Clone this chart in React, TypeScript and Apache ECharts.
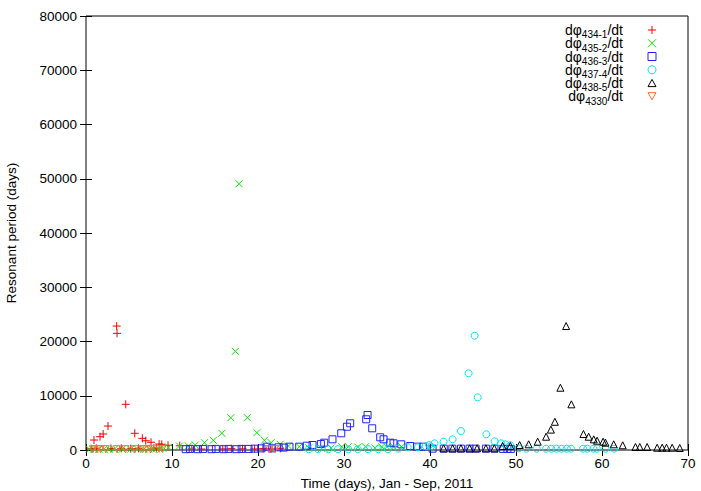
import React, { useEffect, useRef } from 'react';
import * as echarts from 'echarts';

const FONT = "'Liberation Sans', Arial, Helvetica, sans-serif";

const xRange = [0, 70];
const yRange = [0, 80000];
const xStep = 10;
const yStep = 10000;

const seriesNames = ['434-1', '435-2', '436-3', '437-4', '438-5', '4330'];
const seriesColors = ['#ff0000', '#00ee00', '#2222ff', '#00e5ee', '#000000', '#ff6a3d'];

const phi434_1 = [
  [0.93, 1840], [1.63, 2450], [2.0, 2950], [2.56, 4420], [3.57, 22850], [3.61, 21500],
  [4.62, 8420], [5.67, 3080], [6.55, 2150], [6.95, 1710], [7.56, 1420], [8.5, 1100],
  [8.81, 1050], [9.54, 870], [10.9, 780],
  [0.6, 250], [1.2, 300], [2.9, 280], [4.1, 300], [5.2, 260], [6.1, 300], [7.9, 350],
  [8.2, 300], [12.3, 200], [13.4, 180], [15.9, 200], [16.9, 250], [18.2, 220],
  [19.6, 200], [20.6, 280], [21.5, 230], [22.6, 300],
];

const phi435_2 = [
  [17.8, 49080], [17.37, 18190], [16.84, 5950], [18.77, 5950], [15.8, 3080], [19.87, 3190],
  [14.8, 1790], [20.75, 1790], [13.77, 1350], [21.53, 1350], [12.7, 920], [22.58, 1050],
  [11.9, 740], [10.86, 740], [23.54, 740], [9.6, 500], [8.9, 350],
  [0.4, 150], [1.0, 150], [1.5, 150], [2.1, 150], [2.7, 150], [3.3, 150], [4.2, 150],
  [5.2, 150], [6.0, 150], [6.7, 150], [7.3, 150], [7.9, 150], [8.5, 200],
  [24.8, 610], [25.9, 400], [27.4, 300], [28.5, 350], [29.75, 610], [30.5, 600],
  [31.6, 550], [32.5, 600], [33.6, 400], [34.4, 600], [35.0, 610], [35.8, 600], [36.7, 610],
];

const phi436_3 = [
  [23.66, 610], [24.79, 610], [25.68, 790], [26.34, 920], [27.31, 1100], [27.7, 1350],
  [28.66, 1970], [29.68, 3080], [30.34, 4290], [30.72, 4920], [32.58, 5660], [32.74, 6450],
  [33.28, 4000], [34.21, 2340], [34.6, 1970], [35.38, 1350], [35.76, 1230], [36.66, 1050],
  [37.7, 740], [38.48, 610], [39.18, 610],
  [11.6, 150], [12.1, 200], [13.0, 150], [13.6, 200], [14.6, 150], [15.1, 200], [16.0, 150],
  [16.6, 200], [17.5, 150], [18.1, 200], [18.9, 200], [19.6, 250], [20.4, 300], [21.0, 610],
  [21.6, 300], [22.4, 500], [23.0, 450],
  [40.3, 250], [41.6, 250], [42.6, 250], [43.6, 250], [44.6, 250], [45.3, 250], [46.5, 250],
  [47.5, 250], [48.5, 200], [49.0, 200], [49.4, 200],
];

const phi437_4 = [
  [40.53, 1230], [41.58, 1530], [42.63, 1970], [43.6, 3500], [44.49, 14140], [45.19, 21070],
  [45.54, 9710], [46.55, 2890], [47.52, 1600], [48.26, 1230], [48.76, 1050], [49.34, 870],
  [39.9, 900], [40.1, 650], [39.5, 700], [38.6, 500], [37.4, 500], [36.3, 250],
  [25.9, 150], [27.0, 150], [28.2, 150], [29.3, 150], [30.5, 150], [31.6, 150], [32.8, 150],
  [34.0, 150], [35.1, 150],
  [50.3, 300], [51.2, 250], [52.4, 250], [53.5, 240], [54.1, 240], [54.7, 240], [55.3, 240],
  [55.9, 240], [56.4, 240], [57.8, 240], [58.3, 240], [59.0, 240], [59.4, 240], [60.4, 240],
  [61.4, 240],
];

const phi438_5 = [
  [41.58, 310], [42.63, 310], [43.6, 310], [44.6, 310], [45.47, 310], [46.5, 310], [47.48, 310],
  [48.45, 740], [49.34, 740], [50.42, 920], [51.47, 1050], [52.52, 1530], [53.5, 2450],
  [54.06, 3760], [54.52, 5200], [55.16, 11480], [55.83, 22850], [56.44, 8420], [57.84, 2950],
  [58.45, 2450], [59.04, 1970], [59.43, 1710], [60.13, 1530], [60.4, 1350], [61.36, 1050],
  [62.41, 870], [63.89, 550], [64.39, 550], [65.25, 550], [66.41, 420], [67.0, 420],
  [67.5, 420], [68.16, 420], [69.04, 370],
];

const phi4330 = [
  [0.8, 150], [1.3, 150], [1.7, 150], [2.3, 150], [3.6, 150], [4.6, 150], [5.7, 150],
  [6.6, 150], [7.0, 150], [7.5, 150], [8.5, 200], [8.9, 200], [21.3, 150], [22.0, 150],
];

const seriesData = [phi434_1, phi435_2, phi436_3, phi437_4, phi438_5, phi4330];

const PLUS = 'path://M0,5L10,5M5,0L5,10';
const CROSS = 'path://M0,0L10,10M10,0L0,10';
const UP_TRI = 'path://M5,0L10,9L0,9Z';
const DOWN_TRI = 'path://M0,0L10,0L5,9Z';
const symbols = [PLUS, CROSS, 'rect', 'circle', UP_TRI, DOWN_TRI];
const symbolSizes = [8, 7, 7, 7, 7, 7];

export default function App() {
  const ref = useRef<HTMLDivElement>(null);

  useEffect(() => {
    if (!ref.current) return;
    const chart = echarts.init(ref.current, undefined, { renderer: 'svg' });

    const tickCommon = { inside: true, length: 6, lineStyle: { color: '#000', width: 1 } };
    const labelStyle = { color: '#000', fontSize: 13.5, fontFamily: FONT };

    const series = seriesNames.map((name, i) => {
      const hollow = i >= 2;
      return {
        name,
        type: 'scatter',
        xAxisIndex: 0,
        yAxisIndex: 0,
        data: seriesData[i],
        symbol: symbols[i],
        symbolSize: symbolSizes[i],
        itemStyle: {
          color: hollow ? 'rgba(0,0,0,0)' : seriesColors[i],
          borderColor: seriesColors[i],
          borderWidth: 1,
          opacity: 1,
        },
        emphasis: { disabled: true },
      };
    });

    const option = {
      animation: false,
      backgroundColor: '#ffffff',
      textStyle: { fontFamily: FONT },
      grid: {
        left: 86,
        right: 13,
        top: 16,
        bottom: 41,
        containLabel: false,
        outerBoundsMode: 'none',
        show: true,
        borderColor: '#000',
        borderWidth: 1,
        backgroundColor: 'rgba(0,0,0,0)',
      },
      legend: {
        orient: 'vertical',
        right: 44.5,
        top: 23,
        align: 'right',
        padding: 0,
        itemGap: -3.6,
        itemWidth: 8,
        itemHeight: 8,
        selectedMode: false,
        itemStyle: { borderWidth: 1 },
        data: seriesNames,
        formatter: (name: string) => `{a|dφ}{s|${name}}{e|/dt}`,
        textStyle: {
          color: '#000',
          fontFamily: FONT,
          rich: {
            a: { fontSize: 14, lineHeight: 13.7, fontFamily: FONT, color: '#000' },
            s: {
              fontSize: 10,
              lineHeight: 4,
              height: 4,
              verticalAlign: 'bottom',
              fontFamily: FONT,
              color: '#000',
            },
            e: { fontSize: 14, lineHeight: 13.7, fontFamily: FONT, color: '#000', padding: [0, 20, 0, 0] },
          },
        },
      },
      xAxis: [
        {
          type: 'value',
          min: xRange[0],
          max: xRange[1],
          interval: xStep,
          position: 'bottom',
          axisLine: { show: false },
          axisTick: tickCommon,
          axisLabel: { ...labelStyle, margin: 6, formatter: (v: number) => String(v) },
          splitLine: { show: false },
          name: 'Time (days), Jan - Sep, 2011',
          nameLocation: 'middle',
          nameGap: 26,
          nameTextStyle: { ...labelStyle },
        },
        {
          type: 'value',
          min: xRange[0],
          max: xRange[1],
          interval: xStep,
          position: 'top',
          axisLine: { show: false },
          axisTick: tickCommon,
          axisLabel: { show: false },
          splitLine: { show: false },
        },
      ],
      yAxis: [
        {
          type: 'value',
          min: yRange[0],
          max: yRange[1],
          interval: yStep,
          position: 'left',
          axisLine: { show: false },
          axisTick: tickCommon,
          axisLabel: { ...labelStyle, margin: 9, formatter: (v: number) => String(v) },
          splitLine: { show: false },
          name: 'Resonant period (days)',
          nameLocation: 'middle',
          nameGap: 68,
          nameTextStyle: { ...labelStyle },
        },
        {
          type: 'value',
          min: yRange[0],
          max: yRange[1],
          interval: yStep,
          position: 'right',
          axisLine: { show: false },
          axisTick: tickCommon,
          axisLabel: { show: false },
          splitLine: { show: false },
        },
      ],
      series,
    };

    chart.setOption(option as any);
    return () => chart.dispose();
  }, []);

  return (
    <div
      ref={ref}
      style={{ position: 'fixed', left: 0, top: 0, width: 701, height: 491, background: '#fff' }}
    />
  );
}
